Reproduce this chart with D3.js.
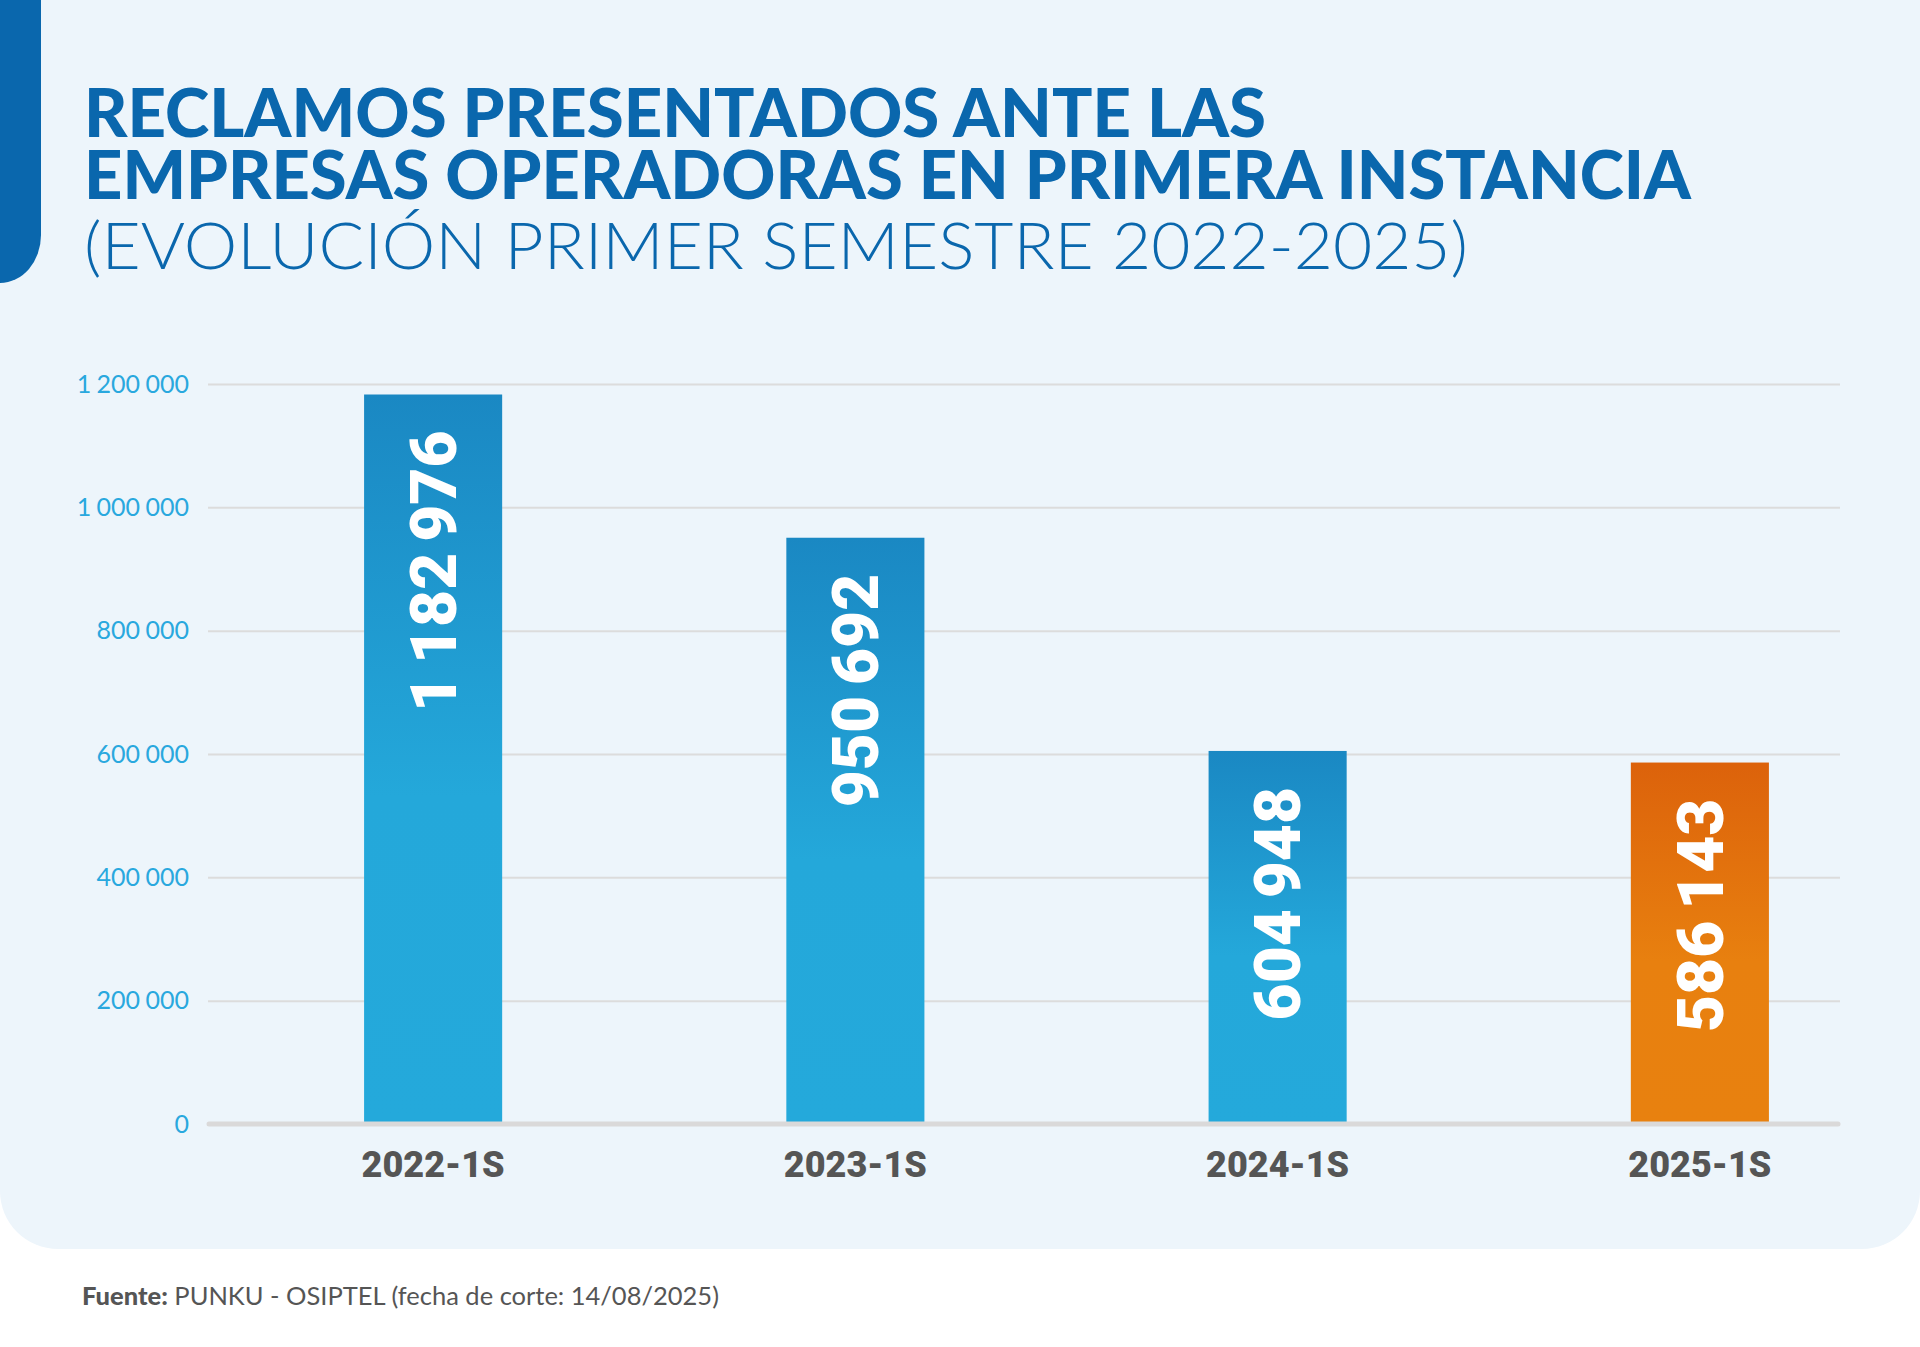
<!DOCTYPE html>
<html>
<head>
<meta charset="utf-8">
<script src="https://cdn.jsdelivr.net/npm/d3@7/dist/d3.min.js"></script>
<style>
  html, body { margin: 0; padding: 0; background: #ffffff; }
  svg { display: block; }
</style>
</head>
<body>
<svg id="chart" width="1920" height="1347"></svg>
<script>
// ---- Data ----
const categories = ["2022-1S", "2023-1S", "2024-1S", "2025-1S"];
const values = [1182976, 950692, 604948, 586143];
const highlight = [false, false, false, true];
const yTicks = [0, 200000, 400000, 600000, 800000, 1000000, 1200000];
const titleLines = [
  "RECLAMOS PRESENTADOS ANTE LAS",
  "EMPRESAS OPERADORAS EN PRIMERA INSTANCIA"
];
const subtitle = "(EVOLUCIÓN PRIMER SEMESTRE 2022-2025)";
const sourceBold = "Fuente:";
const sourceText = " PUNKU - OSIPTEL (fecha de corte: 14/08/2025)";

// ---- Setup ----
const W = 1920, H = 1347;
const svg = d3.select("#chart");
const fmt = v => d3.format(",")(v).replace(/,/g, " ");

// gradients
const defs = svg.append("defs");
const gBlue = defs.append("linearGradient").attr("id", "gBlue")
  .attr("x1", 0).attr("y1", 0).attr("x2", 0).attr("y2", 1);
gBlue.append("stop").attr("offset", "0%").attr("stop-color", "#1a88c3");
gBlue.append("stop").attr("offset", "55%").attr("stop-color", "#24a8da");
gBlue.append("stop").attr("offset", "100%").attr("stop-color", "#24a9db");
const gOrange = defs.append("linearGradient").attr("id", "gOrange")
  .attr("x1", 0).attr("y1", 0).attr("x2", 0).attr("y2", 1);
gOrange.append("stop").attr("offset", "0%").attr("stop-color", "#dc620b");
gOrange.append("stop").attr("offset", "55%").attr("stop-color", "#e8800f");
gOrange.append("stop").attr("offset", "100%").attr("stop-color", "#e8810f");

// background panel with rounded bottom corners
const panelBottom = 1249, r = 58;
svg.append("path")
  .attr("d", `M0,0 H${W} V${panelBottom - r} A${r},${r} 0 0 1 ${W - r},${panelBottom} H${r} A${r},${r} 0 0 1 0,${panelBottom - r} Z`)
  .attr("fill", "#edf5fb");

// left tab
svg.append("path")
  .attr("d", `M0,0 H41 V235 A41,48 0 0 1 0,283 Z`)
  .attr("fill", "#0a67ad");

// title
const titleG = svg.append("g");
const tTargets = [1182, 1607];
titleLines.forEach((t, i) => {
  titleG.append("text")
    .attr("x", 84).attr("y", [137, 199][i])
    .attr("font-family", "Lato, 'Open Sans', sans-serif")
    .attr("font-weight", 900)
    .attr("font-size", 67)
    .attr("fill", "#0a67ad")
    .attr("textLength", tTargets[i]).attr("lengthAdjust", "spacingAndGlyphs")
    .text(t);
});
titleG.append("text")
  .attr("x", 84).attr("y", 269)
  .attr("font-family", "Lato, 'Open Sans', sans-serif")
  .attr("font-weight", 300)
  .attr("font-size", 66)
  .attr("fill", "#0a67ad")
  .attr("textLength", 1384).attr("lengthAdjust", "spacingAndGlyphs")
  .text(subtitle);

// scales
const x = d3.scaleBand().domain(categories).range([222, 1911])
  .paddingInner(0.673).paddingOuter(0.3365);
const y = d3.scaleLinear().domain([0, 1200000]).range([1124, 384]);

// y axis with gridlines
const yAxis = d3.axisLeft(y).tickValues(yTicks).tickFormat(fmt)
  .tickSize(-(1840 - 208)).tickPadding(19);
const yG = svg.append("g").attr("transform", "translate(208,0)").call(yAxis);
yG.select(".domain").remove();
yG.selectAll(".tick line").attr("stroke", "#dcdcdc").attr("stroke-width", 2);
yG.selectAll(".tick text")
  .attr("font-family", "Lato, 'Open Sans', sans-serif")
  .attr("font-size", 25)
  .attr("word-spacing", -1)
  .attr("fill", "#29a8de");
yG.selectAll(".tick").filter(d => d === 0).select("line").remove();

// bars
const bars = svg.append("g");
bars.selectAll("rect").data(values).join("rect")
  .attr("x", (d, i) => x(categories[i]))
  .attr("width", x.bandwidth())
  .attr("y", d => y(d))
  .attr("height", d => y(0) - y(d))
  .attr("fill", (d, i) => highlight[i] ? "url(#gOrange)" : "url(#gBlue)");

// baseline
svg.append("line")
  .attr("x1", 209).attr("x2", 1838)
  .attr("y1", y(0)).attr("y2", y(0))
  .attr("stroke", "#dad9d9").attr("stroke-width", 5)
  .attr("stroke-linecap", "round");

// value labels (rotated)
bars.selectAll("text").data(values).join("text")
  .attr("transform", (d, i) => `translate(${x(categories[i]) + x.bandwidth() / 2},${y(d) + 36}) rotate(-90)`)
  .attr("text-anchor", "end")
  .attr("dy", "0.355em")
  .attr("font-family", "Roboto, 'Open Sans', sans-serif")
  .attr("font-weight", 900)
  .attr("font-size", 64)
  .attr("word-spacing", -5)
  .attr("fill", "#ffffff")
  .text(d => fmt(d));

// x labels
svg.append("g").selectAll("text").data(categories).join("text")
  .attr("x", d => x(d) + x.bandwidth() / 2)
  .attr("y", 1177)
  .attr("text-anchor", "middle")
  .attr("font-family", "Roboto, 'Open Sans', sans-serif")
  .attr("font-weight", 900)
  .attr("font-size", 36)
  .attr("fill", "#555555")
  .text(d => d);

// footer
const foot = svg.append("text")
  .attr("x", 82).attr("y", 1305)
  .attr("font-family", "Lato, 'Open Sans', sans-serif")
  .attr("font-size", 25.5)
  .attr("fill", "#555555");
foot.append("tspan").attr("font-weight", 900).text(sourceBold);
foot.append("tspan").attr("font-weight", 400).text(sourceText);
</script>
</body>
</html>
